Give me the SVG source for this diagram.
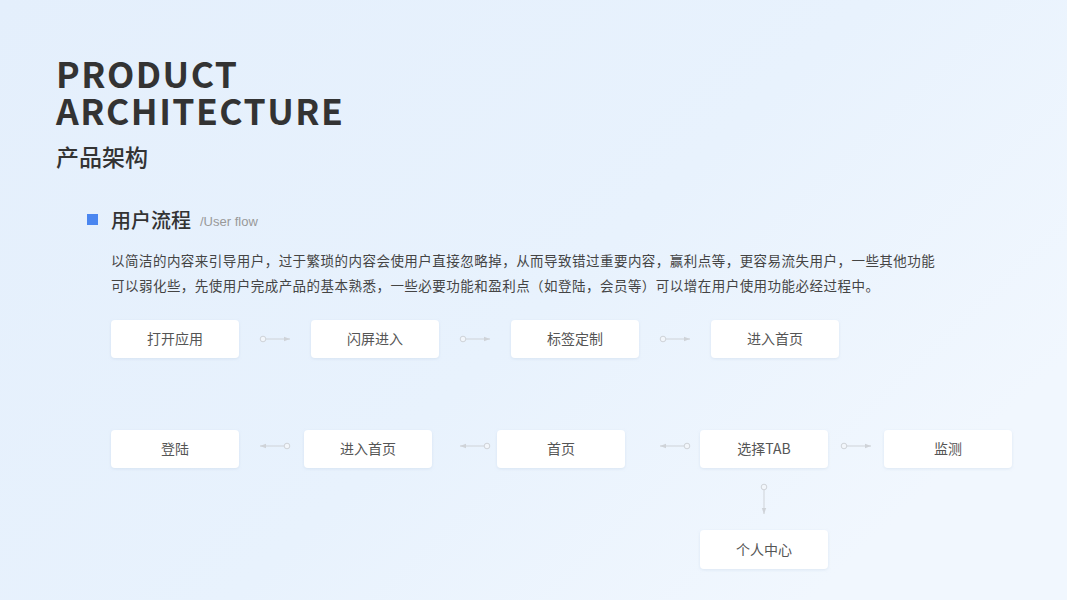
<svg xmlns="http://www.w3.org/2000/svg" width="1067" height="600" viewBox="0 0 1067 600">
<defs>
<linearGradient id="bg" x1="0" y1="0" x2="1" y2="0.6">
<stop offset="0" stop-color="#e4effc"/>
<stop offset="0.6" stop-color="#e8f2fd"/>
<stop offset="1" stop-color="#f1f7fe"/>
</linearGradient>
<filter id="sh" x="-10%" y="-20%" width="120%" height="150%">
<feDropShadow dx="0" dy="1" stdDeviation="1.5" flood-color="#9fb6d0" flood-opacity="0.25"/>
</filter>
<marker id="ar" viewBox="0 0 6 6" refX="6" refY="3" markerWidth="6" markerHeight="6" orient="auto" markerUnits="userSpaceOnUse">
<path d="M0,0.8 L6,3 L0,5.2 Z" fill="#cfd3d8"/>
</marker>
</defs>
<style>
.t{font-family:"Noto Sans CJK SC","Noto Sans",sans-serif}
.nb{fill:#fff;filter:url(#sh)}
.nt{font-family:"Noto Sans CJK SC","Noto Sans",sans-serif;font-size:14px;fill:#555;text-anchor:middle}
.cl{stroke:#cfd3d8;stroke-width:1;fill:none;marker-end:url(#ar)}
.cc{stroke:#cfd3d8;stroke-width:1;fill:#f2f6fb}
</style>
<rect width="1067" height="600" fill="url(#bg)"/>
<text class="t" x="56" y="88" font-size="35.5" font-weight="700" fill="#333" letter-spacing="1.5">PRODUCT</text>
<text class="t" x="56" y="124.5" font-size="35.5" font-weight="700" fill="#333" letter-spacing="1.5">ARCHITECTURE</text>
<text class="t" x="56" y="166" font-size="23" font-weight="500" fill="#333">产品架构</text>
<rect x="87" y="214" width="11" height="11" fill="#4a86f0"/>
<text class="t" x="111" y="228" font-size="20" font-weight="500" fill="#333">用户流程</text>
<text x="200" y="226" font-size="13" fill="#999" font-family="'Liberation Sans',sans-serif">/User flow</text>
<text class="t" x="111" y="266" font-size="13.5" fill="#444" letter-spacing="0.47">以简洁的内容来引导用户，过于繁琐的内容会使用户直接忽略掉，从而导致错过重要内容，赢利点等，更容易流失用户，一些其他功能</text>
<text class="t" x="111" y="291" font-size="13.5" fill="#444" letter-spacing="0.47">可以弱化些，先使用户完成产品的基本熟悉，一些必要功能和盈利点（如登陆，会员等）可以增在用户使用功能必经过程中。</text>
<g id="connectors">
<line class="cl" x1="266" y1="339" x2="290" y2="339"/><circle class="cc" cx="263" cy="339" r="2.8"/>
<line class="cl" x1="466" y1="339" x2="490" y2="339"/><circle class="cc" cx="463" cy="339" r="2.8"/>
<line class="cl" x1="666" y1="339" x2="690" y2="339"/><circle class="cc" cx="663" cy="339" r="2.8"/>
<line class="cl" x1="284" y1="446" x2="260" y2="446"/><circle class="cc" cx="287" cy="446" r="2.8"/>
<line class="cl" x1="484" y1="446" x2="460" y2="446"/><circle class="cc" cx="487" cy="446" r="2.8"/>
<line class="cl" x1="684" y1="446" x2="660" y2="446"/><circle class="cc" cx="687" cy="446" r="2.8"/>
<line class="cl" x1="847" y1="446" x2="871" y2="446"/><circle class="cc" cx="844" cy="446" r="2.8"/>
<line class="cl" x1="764" y1="490" x2="764" y2="514"/><circle class="cc" cx="764" cy="487" r="2.8"/>
</g>
<g id="n1"><rect class="nb" x="111" y="320" width="128" height="38" rx="4"/><text class="nt" x="175" y="344">打开应用</text></g>
<g id="n2"><rect class="nb" x="311" y="320" width="128" height="38" rx="4"/><text class="nt" x="375" y="344">闪屏进入</text></g>
<g id="n3"><rect class="nb" x="511" y="320" width="128" height="38" rx="4"/><text class="nt" x="575" y="344">标签定制</text></g>
<g id="n4"><rect class="nb" x="711" y="320" width="128" height="38" rx="4"/><text class="nt" x="775" y="344">进入首页</text></g>
<g id="n5"><rect class="nb" x="111" y="430" width="128" height="38" rx="4"/><text class="nt" x="175" y="454">登陆</text></g>
<g id="n6"><rect class="nb" x="304" y="430" width="128" height="38" rx="4"/><text class="nt" x="368" y="454">进入首页</text></g>
<g id="n7"><rect class="nb" x="497" y="430" width="128" height="38" rx="4"/><text class="nt" x="561" y="454">首页</text></g>
<g id="n8"><rect class="nb" x="700" y="430" width="128" height="38" rx="4"/><text class="nt" x="764" y="454">选择TAB</text></g>
<g id="n9"><rect class="nb" x="884" y="430" width="128" height="38" rx="4"/><text class="nt" x="948" y="454">监测</text></g>
<g id="n10"><rect class="nb" x="700" y="530" width="128" height="39" rx="4"/><text class="nt" x="764" y="555">个人中心</text></g>
</svg>
